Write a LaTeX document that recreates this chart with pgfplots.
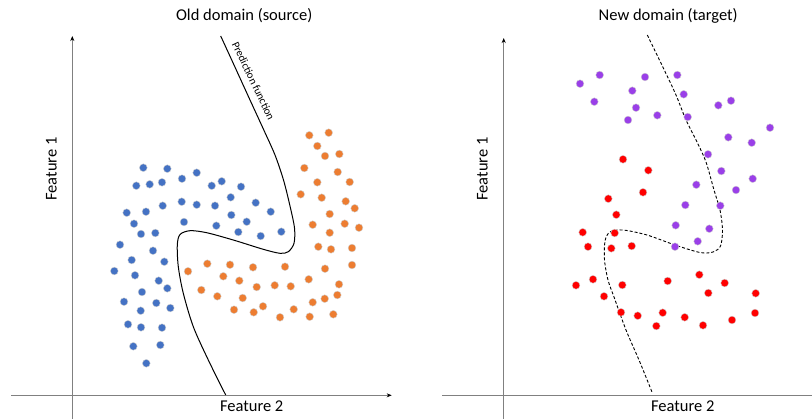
\documentclass[border=0pt]{standalone}
\usepackage{fontspec}
\setmainfont{Carlito}
\usepackage{pgfplots}
\pgfplotsset{compat=1.18}
\usetikzlibrary{arrows.meta}
\definecolor{cblue}{HTML}{4472C4}
\definecolor{corange}{HTML}{ED7D31}
\definecolor{cpurple}{HTML}{9A3FE8}
\definecolor{cred}{HTML}{FF0000}
\definecolor{axgray}{HTML}{808080}
\begin{document}
\begin{tikzpicture}
\begin{axis}[
  x=1bp, y=1bp, y dir=reverse,
  xmin=0, xmax=812, ymin=0, ymax=419,
  scale only axis, hide axis, clip=false,
  every axis plot/.append style={line join=round},
  dot/.style={only marks, mark=*, mark size=3.9bp,
    mark options={draw=gray!35, line width=0.4bp, fill=#1}},
  ax/.style={axgray, line width=0.8bp},
]
% axes of the two panels
\addplot[ax, -{Stealth[black,length=5bp,width=4bp]}] coordinates {(72.3,419) (72.3,36)};
\addplot[ax, -{Stealth[black,length=5bp,width=4bp]}] coordinates {(11,395.3) (391.7,395.3)};
\addplot[ax, -{Stealth[black,length=5bp,width=4bp]}] coordinates {(503.7,419) (503.7,38)};
\addplot[ax] coordinates {(442,395.3) (812,395.3)};

% old domain: prediction function
\addplot[black, line width=1bp, smooth, tension=0.5] coordinates {
(220.7,36) (234.8,66.7) (248.5,96.7) (263.8,130) (275,155) (283.5,180) (290,206)
(294.5,228) (294,243.3) (288.3,251.7) (280,253.3) (263.3,249.3)
(233.3,240) (206.7,232.7) (190,230.7) (180,234.5) (177.3,245)
(178.3,266.7) (183.3,293.3) (193.3,326.7) (208.3,360) (225.7,395)};

% new domain: dashed boundary
\addplot[black, line width=0.9bp, dash pattern=on 3bp off 2bp, smooth, tension=0.5] coordinates {
(647.3,35) (662.7,66.7) (676,95) (686,120) (697,142) (706,162) (714,190)
(720,210) (722.5,230) (720.5,246) (713,252) (700,252.5) (675,245)
(647,235) (623,230) (610,232) (605,241) (604.5,260) (608,280)
(614,297) (626,330) (639,360) (652,392)};

% blue class (source)
\addplot[dot=cblue] coordinates {
(143.3,167.7) (167.3,168.7) (136.3,185.7) (149.7,184.3) (162,182.3) (182,178.7)
(196.7,172.7) (211.7,185.7) (221.7,181.3) (241,186.7) (230.7,197.3) (255.7,202.7)
(270.7,211.7) (181.7,201.7) (196.7,204.7) (215,205.7) (162.7,205.7) (146,211.7)
(126.7,212.7) (231.3,215) (134,223.7) (184,222) (216.3,225.7) (246.7,221.7)
(141,234) (155.3,233) (238.3,232) (260.7,236) (281.3,231.7) (120,244.7)
(153,250.7) (131.7,260) (164.3,261.7) (114.3,271) (135,275.3) (158.7,280.7)
(167.3,288.3) (142,292) (124,301.7) (156.3,303) (170.3,308) (140.7,310.7)
(128,324.3) (141,327.3) (162,327.7) (133.3,346.3) (160.3,345) (146.3,363.3)};

% orange class (source)
\addplot[dot=corange] coordinates {
(309.3,135.3) (328.7,132.7) (317.3,146) (325,156) (339.3,154) (304.3,168)
(337.7,172) (317.3,182.3) (349.7,182) (300.7,194.3) (321.7,197.7) (345.7,201.3)
(354.7,208.3) (329.7,214) (312.7,224.7) (344.7,223.7) (359,227.7) (329.7,232.7)
(318.3,246.7) (331,249.3) (352,248) (188,271.3) (207.3,263.7) (230,264.7)
(253,267.3) (285,266.7) (325,268.7) (352,265) (223.3,276.3) (239.3,280.7)
(256.7,287) (274.7,285.3) (290.7,286.3) (308.7,279.3) (339,284.3) (201.3,290)
(217.3,296.3) (242.7,298) (263,306.3) (234,309.7) (253.7,312.3) (280,317.3)
(293.7,309.3) (309.7,316.7) (312.7,302.3) (324.7,298.7) (337.3,295) (333.3,314.3)};

% purple class (target)
\addplot[dot=cpurple] coordinates {
(580,83.7) (599.7,75) (645,77) (677.3,75) (632.3,90.7) (683.7,94.3)
(594.3,101.7) (636,107.7) (657.3,115.3) (628,120) (687.7,117) (718.3,105.3)
(731,100.7) (770,127.7) (728.3,137.3) (751.7,142.7) (708,154.3) (721.3,171)
(752.7,178.7) (696.3,184.7) (736,190) (685.3,205) (720.3,205.7)
(675.7,225.3) (709.3,228.7) (697.7,241.3) (675,246.7)};

% red class (target)
\addplot[dot=cred] coordinates {
(623,159.3) (648.3,170.3) (643,192.3) (608.3,198.7) (616.3,214.7) (582.7,232.3)
(614.7,233) (588,246.7) (611.3,248.3) (631.7,246) (576,285.3) (593,279.3)
(622.3,285) (604,296.3) (667.7,281) (699.3,274.7) (724.7,283) (708.3,293)
(755.7,293.3) (621,312.3) (637.7,315.7) (662.7,312.7) (656.3,326) (684.7,317.3)
(703,325.3) (732,320) (755,313)};

% texts
\node[anchor=base, font=\fontsize{16.5bp}{19bp}\selectfont] at (axis cs:244.2,20.7) {Old domain (source)};
\node[anchor=base, font=\fontsize{16.5bp}{19bp}\selectfont] at (axis cs:668.2,20.7) {New domain (target)};
\node[anchor=base, rotate=90, font=\fontsize{16.5bp}{19bp}\selectfont] at (axis cs:56.7,169) {Feature 1};
\node[anchor=base, rotate=90, font=\fontsize{16.5bp}{19bp}\selectfont] at (axis cs:487.7,169) {Feature 1};
\node[anchor=base, font=\fontsize{16.5bp}{19bp}\selectfont] at (axis cs:251.7,411.7) {Feature 2};
\node[anchor=base, font=\fontsize{16.5bp}{19bp}\selectfont] at (axis cs:682.7,411) {Feature 2};
\node[rotate=-64.5, font=\fontsize{11bp}{13bp}\selectfont] at (axis cs:253.5,81) {Prediction function};
\end{axis}
\pgfresetboundingbox
\useasboundingbox (current axis.south west) rectangle (current axis.north east);
\end{tikzpicture}
\end{document}
